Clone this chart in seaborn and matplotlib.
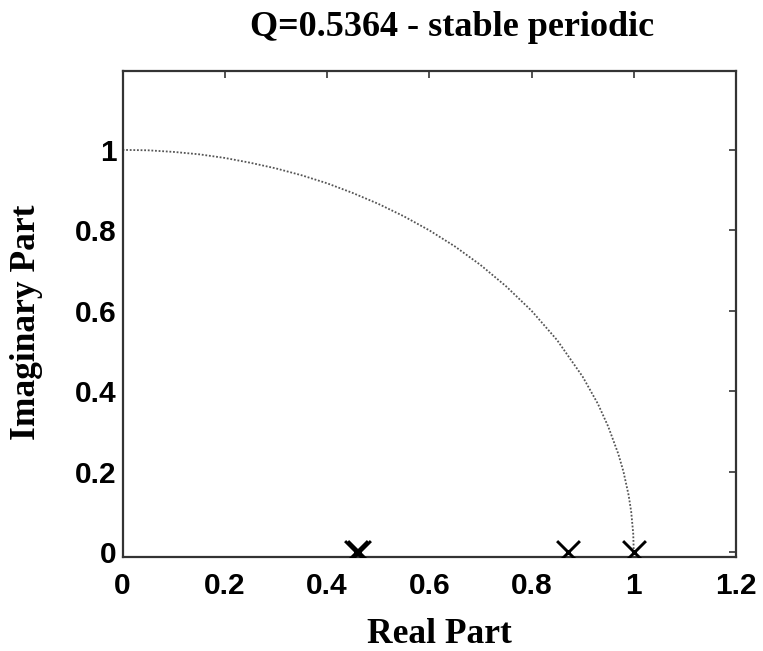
import numpy as np
import pandas as pd
import seaborn as sns
import matplotlib
matplotlib.use("Agg")
import matplotlib.pyplot as plt

# locus of the eigenvalue
locus_re = [0.0, 0.05, 0.1, 0.15, 0.2, 0.25, 0.3, 0.35, 0.4, 0.45, 0.5, 0.55, 0.6, 0.65,
            0.7, 0.75, 0.8, 0.85, 0.9, 0.93, 0.95, 0.97, 0.98, 0.99, 0.995, 0.999, 1.0]
locus_im = [1.0, 0.999, 0.995, 0.989, 0.98, 0.968, 0.954, 0.937, 0.917, 0.893, 0.866, 0.835,
            0.8, 0.76, 0.714, 0.661, 0.6, 0.527, 0.436, 0.368, 0.312, 0.243, 0.199, 0.141,
            0.1, 0.045, 0.0]

# eigenvalues (crosses)
eig_re = [0.456, 0.462, 0.871, 1.0]
eig_im = [0.0, 0.0, 0.0, 0.0]

title = "Q=0.5364 - stable periodic"

sns.set_style("white")
plt.rcParams["font.family"] = ["Liberation Sans", "DejaVu Sans"]
plt.rcParams["text.color"] = "black"
plt.rcParams["axes.labelcolor"] = "black"

fig = plt.figure(figsize=(7.63, 6.51), dpi=100)
ax = fig.add_axes([0.1606, 0.1448, 0.804, 0.7466])

df_locus = pd.DataFrame({"re": locus_re, "im": locus_im})
df_eig = pd.DataFrame({"re": eig_re, "im": eig_im})

sns.lineplot(data=df_locus, x="re", y="im", sort=False, ax=ax,
             color="#555555", linewidth=1.3, linestyle=(0, (1, 1)))
sns.scatterplot(data=df_eig, x="re", y="im", ax=ax, marker="x", s=270,
                color="black", linewidth=2.1, zorder=5)

ax.set_xlim(0, 1.2)
ax.set_ylim(-0.012, 1.197)
ax.set_xticks([0, 0.2, 0.4, 0.6, 0.8, 1.0, 1.2])
ax.set_xticklabels(["0", "0.2", "0.4", "0.6", "0.8", "1", "1.2"])
ax.set_yticks([0, 0.2, 0.4, 0.6, 0.8, 1.0])
ax.set_yticklabels(["0", "0.2", "0.4", "0.6", "0.8", "1"])

ax.tick_params(direction="in", length=5, width=1.2, color="#333333",
               labelcolor="black", top=True, right=True)
ax.tick_params(axis="x", pad=11)
ax.tick_params(axis="y", pad=4)
for lbl in ax.get_xticklabels() + ax.get_yticklabels():
    lbl.set_fontsize(21.5)
    lbl.set_fontweight("bold")

for sp in ax.spines.values():
    sp.set_color("#333333")
    sp.set_linewidth(1.6)

serif = ["Liberation Serif", "DejaVu Serif"]
ax.set_xlabel("Real Part", fontsize=25.5, fontweight="bold", family=serif)
ax.set_ylabel("Imaginary Part", fontsize=25.5, fontweight="bold", family=serif)
ax.xaxis.set_label_coords(0.5167, -0.126)
ax.yaxis.set_label_coords(-0.1296, 0.482)
ax.set_title(title, fontsize=26, fontweight="bold", family=serif,
             x=0.537, y=1.0704, pad=0)

fig.savefig("out.png", dpi=100)
